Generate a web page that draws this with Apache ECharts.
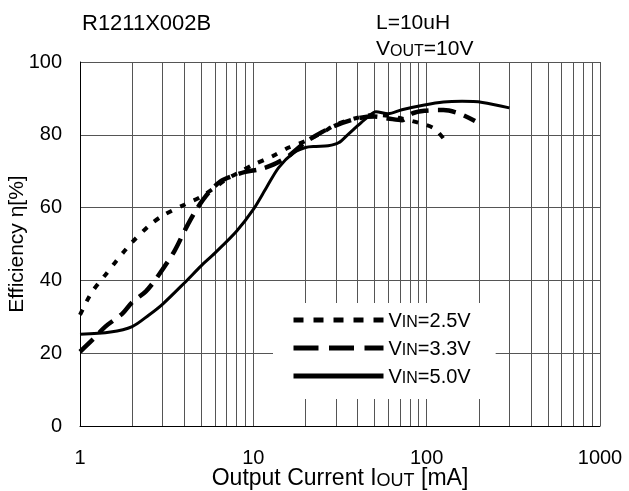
<!DOCTYPE html>
<html>
<head>
<meta charset="utf-8">
<script src="https://cdn.jsdelivr.net/npm/echarts@6/dist/echarts.min.js"></script>
<style>
html, body { margin: 0; padding: 0; background: #fff; }
#chart { width: 629px; height: 491px; }
</style>
</head>
<body>
<div id="chart"></div>
<script>
var dom = document.getElementById('chart');
var myChart = echarts.init(dom);

// (I in mA, efficiency in %)
var vin25Current = [1, 1.1, 1.2, 1.4, 1.6, 1.8, 2, 2.5, 3, 4, 5, 6, 7, 8.5, 10, 13, 16, 20, 25, 30, 40, 50, 60, 70, 90, 110, 125];
var vin25Eff = [30.5, 34.5, 37.5, 41.5, 45, 48, 50.5, 55, 57.8, 60.8, 63, 65.5, 67.8, 70, 71.8, 74.2, 76.5, 78.3, 80.6, 82.8, 84.7, 85.5, 85.2, 84.6, 83.3, 81.8, 79];

var vin33Current = [1, 1.2, 1.4, 1.75, 2, 2.4, 2.8, 3.5, 4.1, 4.7, 5.5, 6.5, 7.6, 9, 11, 13, 16, 20, 25, 30, 40, 50, 60, 72, 82, 97, 125, 155, 190];
var vin33Eff = [20.4, 24, 27.3, 30.8, 34, 37, 41, 48, 54.5, 59.5, 64, 67.3, 68.7, 69.8, 70.6, 71.8, 74.2, 78, 80.8, 82.6, 84.5, 85, 84.5, 84, 85.8, 86.6, 86.8, 85.8, 83.8];

var vin50Current = [1, 1.5, 2, 2.5, 3, 4, 5, 6, 8, 10, 12, 14, 17, 20, 23, 27, 31, 35, 40, 46, 51, 60, 72, 97, 125, 160, 210, 300];
var vin50Eff = [25.2, 25.8, 27.3, 30.5, 33.5, 39.3, 44, 47.5, 53.5, 59.5, 65.8, 71, 75, 76.5, 76.8, 77, 77.8, 80, 82.5, 85, 86.3, 85.8, 86.9, 88.2, 89, 89.2, 88.9, 87.4];

var seriesNames = ['VIN=2.5V', 'VIN=3.3V', 'VIN=5.0V'];
var legendLabels = ['{a|V}{b|IN}{a|=2.5V}', '{a|V}{b|IN}{a|=3.3V}', '{a|V}{b|IN}{a|=5.0V}'];
var minorGrid = [2, 3, 4, 5, 6, 7, 8, 9, 20, 30, 40, 50, 60, 70, 80, 90, 200, 300, 400, 500, 600, 700, 800, 900];

function pairs(xs, ys) {
    return xs.map(function (x, i) { return [x, ys[i]]; });
}

var font = 'Liberation Sans';
function rich(big, small) {
    return {
        a: { fontSize: big, fontFamily: font, fontWeight: 'normal', color: '#000', verticalAlign: 'bottom', lineHeight: big + 2 },
        b: { fontSize: small, fontFamily: font, fontWeight: 'normal', color: '#000', verticalAlign: 'bottom', lineHeight: big + 2 }
    };
}

option = {
    animation: false,
    backgroundColor: '#fff',
    textStyle: { fontFamily: font, color: '#000' },
    title: [
        { text: 'R1211X002B', left: 82, top: 13, padding: 0,
          textStyle: { fontSize: 22, fontWeight: 'normal', fontFamily: font, color: '#000' } },
        { text: 'L=10uH', left: 376, top: 13, padding: 0,
          textStyle: { fontSize: 21, fontWeight: 'normal', fontFamily: font, color: '#000' } },
        { text: '{a|V}{b|OUT}{a|=10V}', left: 376, top: 37, padding: 0,
          textStyle: { rich: rich(21, 16) } }
    ],
    grid: { left: 80, top: 62, width: 520, height: 364, outerBoundsMode: 'none', containLabel: false },
    legend: {
        orient: 'vertical',
        left: 273,
        top: 303,
        padding: [8, 25, 12, 18],
        backgroundColor: '#fff',
        itemWidth: 90,
        itemHeight: 18,
        itemGap: 8,
        selectedMode: false,
        itemStyle: { opacity: 0, color: 'rgba(0,0,0,0)', borderWidth: 0 },
        data: [
            { name: seriesNames[0], lineStyle: { type: [10, 10], width: 5, color: '#000' } },
            { name: seriesNames[1], lineStyle: { type: [25, 10.5], width: 5, color: '#000' } },
            { name: seriesNames[2], lineStyle: { type: 'solid', width: 5, color: '#000' } }
        ],
        formatter: function (name) {
            return legendLabels[seriesNames.indexOf(name)];
        },
        textStyle: { rich: rich(20, 16) }
    },
    xAxis: {
        type: 'log',
        logBase: 10,
        min: 1,
        max: 1000,
        name: '{a|Output Current I}{b|OUT}{a| [mA]}',
        nameLocation: 'middle',
        nameGap: 39,
        nameMoveOverlap: false,
        nameTextStyle: { rich: rich(23, 18) },
        axisLine: { lineStyle: { color: '#000', width: 1 } },
        axisTick: { show: false },
        axisLabel: {
            fontSize: 20, fontFamily: font, color: '#000', margin: 22,
            formatter: function (v) { return String(v); }
        },
        splitLine: { show: true, lineStyle: { color: '#555', width: 1 } }
    },
    yAxis: {
        type: 'value',
        min: 0,
        max: 100,
        interval: 20,
        name: 'Efficiency η[%]',
        nameLocation: 'middle',
        nameGap: 52,
        nameMoveOverlap: false,
        nameTextStyle: { fontSize: 21, fontFamily: font, color: '#000' },
        axisLine: { show: true, lineStyle: { color: '#000', width: 1 } },
        axisTick: { show: false },
        axisLabel: { fontSize: 20, fontFamily: font, color: '#000', margin: 18 },
        splitLine: { show: true, lineStyle: { color: '#555', width: 1 } }
    },
    series: [
        {
            name: 'grid',
            type: 'line',
            data: [],
            z: 1,
            markLine: {
                silent: true,
                z: 1,
                symbol: 'none',
                label: { show: false },
                lineStyle: { color: '#555', width: 1, type: 'solid' },
                data: minorGrid.map(function (v) { return { xAxis: v }; })
            }
        },
        {
            name: seriesNames[0],
            type: 'line',
            z: 3,
            smooth: 0.3,
            symbol: 'none',
            itemStyle: { color: '#000' },
            lineStyle: { color: '#000', width: 4, type: [6, 9] },
            data: pairs(vin25Current, vin25Eff)
        },
        {
            name: seriesNames[1],
            type: 'line',
            z: 3,
            smooth: 0.3,
            symbol: 'none',
            itemStyle: { color: '#000' },
            lineStyle: { color: '#000', width: 4.5, type: [18, 9] },
            data: pairs(vin33Current, vin33Eff)
        },
        {
            name: seriesNames[2],
            type: 'line',
            z: 3,
            smooth: 0.3,
            symbol: 'none',
            itemStyle: { color: '#000' },
            lineStyle: { color: '#000', width: 3 },
            data: pairs(vin50Current, vin50Eff)
        }
    ]
};

if (option && typeof option === 'object') {
    myChart.setOption(option, true);
}
</script>
</body>
</html>
